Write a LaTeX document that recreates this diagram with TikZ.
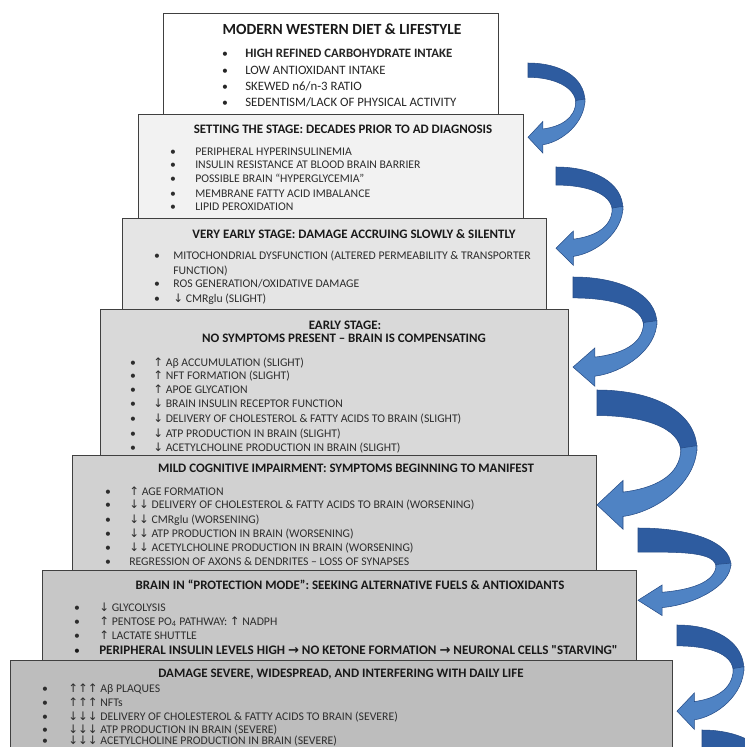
\documentclass[tikz,border=0pt]{standalone}
\usepackage{fontspec}
\setmainfont{Carlito}
\newfontfamily\symfont{DejaVu Sans}
\newcommand\uarr{{\symfont ↑}}
\newcommand\darr{{\symfont ↓}}
\newcommand\rarr{{\symfont →}}
\definecolor{arrdark}{RGB}{46,92,160}
\definecolor{arrlight}{RGB}{79,131,196}
\definecolor{arredge}{RGB}{38,76,135}
\definecolor{txtgray}{RGB}{45,45,45}
\tikzset{
  stagebox/.style={draw=black!75, line width=0.6pt, anchor=north west, inner sep=0pt},
  ttl/.style={anchor=base, inner sep=0pt, font=\fontsize{9.7}{11}\selectfont\bfseries, text=black!90},
  bigttl/.style={anchor=base, inner sep=0pt, font=\fontsize{11.6}{13}\selectfont\bfseries, text=black!90},
  itm/.style={anchor=base west, inner sep=0pt, font=\fontsize{8.8}{10}\selectfont, text=txtgray},
  bul/.style={anchor=base, inner sep=0pt, font=\fontsize{8.8}{10}\selectfont, text=txtgray},
  itmone/.style={anchor=base west, inner sep=0pt, font=\fontsize{9.6}{11}\selectfont, text=black!85},
  bulone/.style={anchor=base, inner sep=0pt, font=\fontsize{8.8}{11}\selectfont, text=black!85},
}
\newcommand\stgitem[5]{%
  \node[bul] (#1b) at (#2,#4) {\textbullet};
  \node[itm] (#1) at (#3,#4) {#5};}
\newcommand\topitem[5]{%
  \node[bulone] (#1b) at (#2,#4) {\textbullet};
  \node[itmone] (#1) at (#3,#4) {#5};}
\newcommand\bluearrow[5]{%
  \begin{scope}[shift={(#1,#2)},xscale=#3,yscale=#4]
    \filldraw[fill=arrdark, draw=arredge, line width=0.4pt]
      (0,0) .. controls (0.55,0) and (1,0.18) .. (1,0.52)
      -- (0.84,0.54) .. controls (0.84,0.32) and (0.45,#5) .. (0,#5) -- cycle;
    \filldraw[fill=arrlight, draw=arredge, line width=0.4pt]
      (1,0.48) .. controls (1,0.8) and (0.6,1.05) .. (0.26,1.09)
      -- (0.26,1.2) -- (0,0.99) -- (0.26,0.78) -- (0.26,0.88)
      .. controls (0.55,0.85) and (0.84,0.75) .. (0.84,0.5) -- cycle;
  \end{scope}}
\begin{document}
\begin{tikzpicture}[x=0.75pt,y=-0.75pt]
\useasboundingbox (0,0) rectangle (745,747);
\clip (0,0) rectangle (745,747);
\fill[white] (0,0) rectangle (745,747);

% boxes
\node[stagebox, fill=white, minimum width={335*0.75pt}, minimum height={101*0.75pt}] (b1) at (163,13) {};
\node[stagebox, fill=black!5, minimum width={385*0.75pt}, minimum height={104*0.75pt}] (b2) at (138,114) {};
\node[stagebox, fill=black!10, minimum width={424*0.75pt}, minimum height={91*0.75pt}] (b3) at (122,218) {};
\node[stagebox, fill=black!15, minimum width={468*0.75pt}, minimum height={146*0.75pt}] (b4) at (100,309) {};
\node[stagebox, fill=black!18, minimum width={524*0.75pt}, minimum height={115*0.75pt}] (b5) at (72,455) {};
\node[stagebox, fill=black!22, minimum width={594*0.75pt}, minimum height={90*0.75pt}] (b6) at (42,570) {};
\node[stagebox, fill=black!26, minimum width={662*0.75pt}, minimum height={110*0.75pt}] (b7) at (10,660) {};

% box 1
\node[bigttl] (t1) at (342,34) {MODERN WESTERN DIET \& LIFESTYLE};
\node[bulone] (i11b) at (225,57) {\textbullet};
\node[itmone, font=\fontsize{9.6}{11}\selectfont\bfseries] (i11) at (245,57) {HIGH REFINED CARBOHYDRATE INTAKE};
\topitem{i12}{225}{245}{74}{LOW ANTIOXIDANT INTAKE}
\topitem{i13}{225}{245}{90}{SKEWED n6/n-3 RATIO}
\topitem{i14}{225}{245}{106}{SEDENTISM/LACK OF PHYSICAL ACTIVITY}

% box 2
\node[ttl] (t2) at (343,133) {SETTING THE STAGE: DECADES PRIOR TO AD DIAGNOSIS};
\stgitem{i21}{173}{195}{155}{PERIPHERAL HYPERINSULINEMIA}
\stgitem{i22}{173}{195}{168}{INSULIN RESISTANCE AT BLOOD BRAIN BARRIER}
\stgitem{i23}{173}{195}{182}{POSSIBLE BRAIN “HYPERGLYCEMIA”}
\stgitem{i24}{173}{195}{197}{MEMBRANE FATTY ACID IMBALANCE}
\stgitem{i25}{173}{195}{210}{LIPID PEROXIDATION}

% box 3
\node[ttl] (t3) at (354,238) {VERY EARLY STAGE: DAMAGE ACCRUING SLOWLY \& SILENTLY};
\stgitem{i31}{157}{173}{259}{MITOCHONDRIAL DYSFUNCTION (ALTERED PERMEABILITY \& TRANSPORTER}
\node[itm] (i31c) at (173,274) {FUNCTION)};
\stgitem{i32}{157}{173}{287}{ROS GENERATION/OXIDATIVE DAMAGE}
\stgitem{i33}{157}{173}{302}{\darr\ CMRglu (SLIGHT)}

% box 4
\node[ttl] (t4a) at (345,329) {EARLY STAGE:};
\node[ttl] (t4b) at (344,342) {NO SYMPTOMS PRESENT – BRAIN IS COMPENSATING};
\stgitem{i41}{133}{153}{366}{\uarr\ Aβ ACCUMULATION (SLIGHT)}
\stgitem{i42}{133}{153}{379}{\uarr\ NFT FORMATION (SLIGHT)}
\stgitem{i43}{133}{153}{393}{\uarr\ APOE GLYCATION}
\stgitem{i44}{133}{153}{407}{\darr\ BRAIN INSULIN RECEPTOR FUNCTION}
\stgitem{i45}{133}{153}{422}{\darr\ DELIVERY OF CHOLESTEROL \& FATTY ACIDS TO BRAIN (SLIGHT)}
\stgitem{i46}{133}{153}{437}{\darr\ ATP PRODUCTION IN BRAIN (SLIGHT)}
\stgitem{i47}{133}{153}{451}{\darr\ ACETYLCHOLINE PRODUCTION IN BRAIN (SLIGHT)}

% box 5
\node[ttl] (t5) at (346,472) {MILD COGNITIVE IMPAIRMENT: SYMPTOMS BEGINNING TO MANIFEST};
\stgitem{i51}{108}{129}{495}{\uarr\ AGE FORMATION}
\stgitem{i52}{108}{129}{508}{\darr\darr\ DELIVERY OF CHOLESTEROL \& FATTY ACIDS TO BRAIN (WORSENING)}
\stgitem{i53}{108}{129}{523}{\darr\darr\ CMRglu (WORSENING)}
\stgitem{i54}{108}{129}{537}{\darr\darr\ ATP PRODUCTION IN BRAIN (WORSENING)}
\stgitem{i55}{108}{129}{551}{\darr\darr\ ACETYLCHOLINE PRODUCTION IN BRAIN (WORSENING)}
\stgitem{i56}{108}{129}{565}{REGRESSION OF AXONS \& DENDRITES – LOSS OF SYNAPSES}

% box 6
\node[ttl] (t6) at (350,589) {BRAIN IN “PROTECTION MODE”: SEEKING ALTERNATIVE FUELS \& ANTIOXIDANTS};
\stgitem{i61}{77}{99}{611}{\darr\ GLYCOLYSIS}
\stgitem{i62}{77}{99}{625}{\uarr\ PENTOSE PO\textsubscript{4} PATHWAY: \uarr\ NADPH}
\stgitem{i63}{77}{99}{639}{\uarr\ LACTATE SHUTTLE}
\node[bul, text=black!90] (i64b) at (77,654) {\textbullet};
\node[itm, font=\fontsize{9.8}{11}\selectfont\bfseries, text=black!90] (i64) at (99,654) {PERIPHERAL INSULIN LEVELS HIGH \rarr\ NO KETONE FORMATION \rarr\ NEURONAL CELLS \textquotedbl STARVING\textquotedbl};

% box 7
\node[ttl] (t7) at (341,677) {DAMAGE SEVERE, WIDESPREAD, AND INTERFERING WITH DAILY LIFE};
\stgitem{i71}{45}{68}{692}{\uarr\uarr\uarr\ Aβ PLAQUES}
\stgitem{i72}{45}{68}{706}{\uarr\uarr\uarr\ NFTs}
\stgitem{i73}{45}{68}{720}{\darr\darr\darr\ DELIVERY OF CHOLESTEROL \& FATTY ACIDS TO BRAIN (SEVERE)}
\stgitem{i74}{45}{68}{733}{\darr\darr\darr\ ATP PRODUCTION IN BRAIN (SEVERE)}
\stgitem{i75}{45}{68}{744}{\darr\darr\darr\ ACETYLCHOLINE PRODUCTION IN BRAIN (SEVERE)}

% curved arrows
\bluearrow{528}{63}{57}{75}{0.19}
\bluearrow{556}{167}{67}{82}{0.22}
\bluearrow{573}{277}{84}{91}{0.23}
\bluearrow{597}{390}{100}{116}{0.22}
\bluearrow{638}{528}{93}{73}{0.33}
\bluearrow{677}{625}{67}{87}{0.24}
\bluearrow{702}{730}{70}{90}{0.22}
\end{tikzpicture}
\end{document}
